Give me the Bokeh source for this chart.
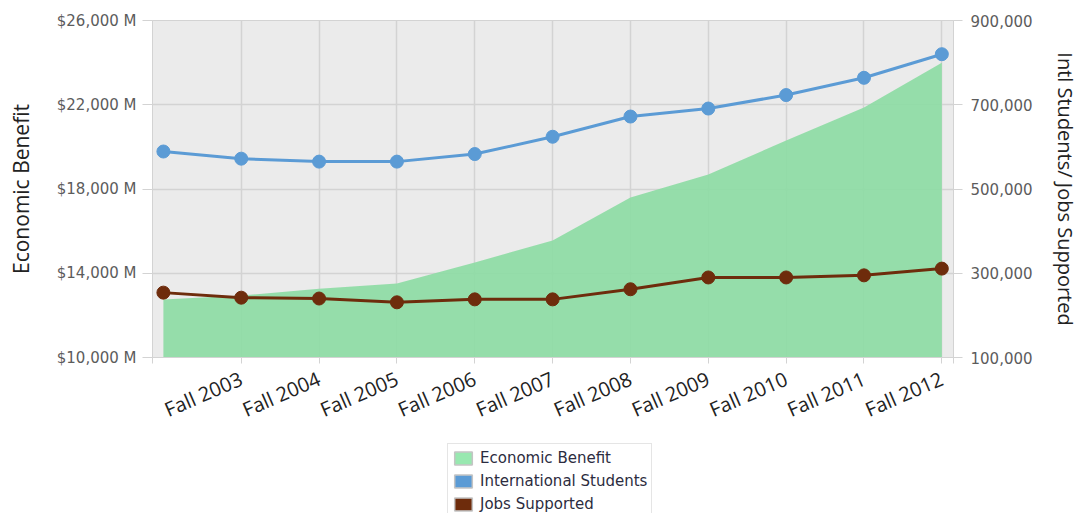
from bokeh.plotting import figure
from bokeh.layouts import column
from bokeh.models import Range1d, LinearAxis, FixedTicker, Legend, LegendItem
from bokeh.embed import file_html
from bokeh.resources import INLINE

# ---- data ----
x_pos = [0, 1, 2, 3, 4, 5, 6, 7, 8, 9, 10]
tick_pos = [1, 2, 3, 4, 5, 6, 7, 8, 9, 10]
tick_labels = ["Fall 2003", "Fall 2004", "Fall 2005", "Fall 2006", "Fall 2007",
               "Fall 2008", "Fall 2009", "Fall 2010", "Fall 2011", "Fall 2012"]
benefit = [12750, 12940, 13270, 13510, 14510, 15560, 17600, 18690, 20300, 21870, 24000]
students = [589000, 572000, 565000, 565000, 583000, 624000, 672000, 691000, 723000, 764000, 820000]
jobs = [254000, 242000, 240000, 231000, 238000, 238000, 262000, 290000, 290000, 295000, 311000]
left_ticks = [10000, 14000, 18000, 22000, 26000]
right_ticks = [100000, 300000, 500000, 700000, 900000]
series_names = ["Economic Benefit", "International Students", "Jobs Supported"]

GREEN = "#8CDCA3"
GREEN_SW = "#98E8B0"
BLUE = "#5B9BD5"
BROWN = "#6E2C0C"
GRID = "#d3d3d3"
TICKC = "#5c5c5c"

x_lo, x_hi = -0.14, 10.15
W = 1080

p = figure(frame_width=801, frame_height=337, output_backend="svg", toolbar_location=None,
           x_range=Range1d(x_lo, x_hi), y_range=Range1d(10000, 26000),
           min_border_left=152, min_border_right=W - 953, min_border_top=20, min_border_bottom=85)
p.extra_y_ranges = {"right": Range1d(100000, 900000)}

p.background_fill_color = "#EBEBEB"
p.border_fill_color = "white"
p.outline_line_color = GRID

p.varea(x=x_pos, y1=10000, y2=benefit, fill_color=GREEN, fill_alpha=0.9)

p.line(x_pos, students, y_range_name="right", line_color=BLUE, line_width=3)
p.scatter(x_pos, students, y_range_name="right", size=13, fill_color=BLUE, line_color=BLUE)
p.line(x_pos, jobs, y_range_name="right", line_color=BROWN, line_width=3)
p.scatter(x_pos, jobs, y_range_name="right", size=13, fill_color=BROWN, line_color=BROWN)

# grids
p.xgrid.ticker = FixedTicker(ticks=tick_pos)
p.ygrid.ticker = FixedTicker(ticks=left_ticks)
p.xgrid.grid_line_color = GRID
p.ygrid.grid_line_color = GRID
p.xgrid.grid_line_width = 1.5
p.ygrid.grid_line_width = 1.5

# x axis
xa = p.xaxis[0]
xa.ticker = FixedTicker(ticks=[x_lo] + tick_pos + [x_hi])
ovr = {t: lab for t, lab in zip(tick_pos, tick_labels)}
ovr[x_lo] = ""
ovr[x_hi] = ""
xa.major_label_overrides = ovr
xa.major_label_orientation = 0.41
xa.major_label_text_font = "Open Sans"
xa.major_label_text_font_size = "20px"
xa.major_label_text_color = "#222222"
xa.axis_line_color = GRID
xa.major_tick_line_color = GRID
xa.major_tick_out = 6
xa.major_tick_in = 0
xa.minor_tick_line_color = None
xa.major_label_standoff = 14

# left axis
ya = p.yaxis[0]
ya.ticker = FixedTicker(ticks=left_ticks)
ya.major_label_overrides = {t: "${:,} M".format(t) for t in left_ticks}
ya.major_label_text_font = "DejaVu Sans"
ya.major_label_text_font_size = "15px"
ya.major_label_text_color = TICKC
ya.axis_line_color = GRID
ya.major_tick_line_color = GRID
ya.major_tick_out = 10
ya.major_tick_in = 0
ya.minor_tick_line_color = None
ya.major_label_standoff = 6
ya.axis_label = "Economic Benefit"
ya.axis_label_text_font = "Open Sans"
ya.axis_label_text_font_style = "normal"
ya.axis_label_text_font_size = "21px"
ya.axis_label_text_color = "#222222"
ya.axis_label_standoff = 19

# right axis
ra = LinearAxis(y_range_name="right", ticker=FixedTicker(ticks=right_ticks))
ra.major_label_overrides = {t: "{:,}".format(t) for t in right_ticks}
ra.major_label_text_font = "DejaVu Sans"
ra.major_label_text_font_size = "15px"
ra.major_label_text_color = TICKC
ra.axis_line_color = GRID
ra.major_tick_line_color = GRID
ra.major_tick_out = 9
ra.major_tick_in = 0
ra.minor_tick_line_color = None
ra.major_label_standoff = 8
ra.axis_label = "Intl Students/ Jobs Supported"
ra.axis_label_text_font = "Open Sans"
ra.axis_label_text_font_style = "normal"
ra.axis_label_text_font_size = "20px"
ra.axis_label_text_color = "#222222"
ra.axis_label_standoff = 16
p.add_layout(ra, "right")

# ---- legend strip below the chart ----
LH = 71
lg = figure(width=W, height=LH, output_backend="svg", toolbar_location=None,
            x_axis_location=None, y_axis_location=None, min_border=0,
            x_range=Range1d(0, 1), y_range=Range1d(0, 1))
lg.outline_line_color = None
lg.grid.visible = False
lg.background_fill_color = "white"
lg.border_fill_color = "white"
# legend-only proxies, kept outside the visible range
r1 = lg.rect(x=[-5], y=[-5], width=1, height=1, fill_color=GREEN_SW, line_color="#c4c4c4", line_width=1.5)
r2 = lg.rect(x=[-5], y=[-5], width=1, height=1, fill_color=BLUE, line_color="#c4c4c4", line_width=1.5)
r3 = lg.rect(x=[-5], y=[-5], width=1, height=1, fill_color=BROWN, line_color="#c4c4c4", line_width=1.5)
legend = Legend(items=[LegendItem(label=series_names[0], renderers=[r1]),
                       LegendItem(label=series_names[1], renderers=[r2]),
                       LegendItem(label=series_names[2], renderers=[r3])],
                location=(295, LH - 3 - 74))
legend.label_text_font = "DejaVu Sans"
legend.label_text_font_size = "15px"
legend.label_text_color = "#2c2c40"
legend.glyph_width = 22
legend.glyph_height = 16
legend.label_height = 20
legend.spacing = 3
legend.padding = 4
legend.margin = 0
legend.label_standoff = 6
legend.border_line_color = "#cccccc"
legend.border_line_width = 1.5
legend.background_fill_color = "white"
legend.background_fill_alpha = 1
lg.add_layout(legend, "center")

layout = column(p, lg, spacing=0)
open("out.html", "w").write(file_html(layout, INLINE))
